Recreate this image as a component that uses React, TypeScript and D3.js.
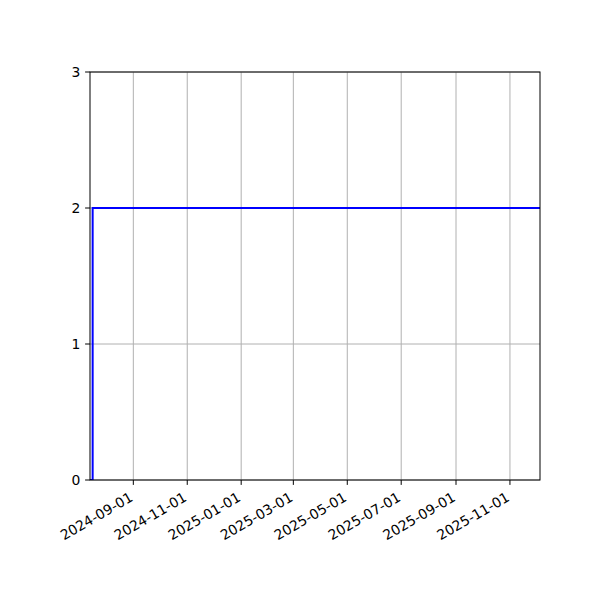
import * as d3 from "d3";

// step series: count over time
const dates = ["2024-07-14", "2024-07-16", "2024-07-17", "2025-12-05"];
const values = [0, 0, 2, 2];
const xTickDates = [
  "2024-09-01",
  "2024-11-01",
  "2025-01-01",
  "2025-03-01",
  "2025-05-01",
  "2025-07-01",
  "2025-09-01",
  "2025-11-01",
];
const yTicks = [0, 1, 2, 3];

const W = 600;
const H = 600;
const M = { top: 72, right: 60, bottom: 120, left: 90 };
const FONT = "DejaVu Sans, sans-serif";

const parse = d3.utcParse("%Y-%m-%d");

export default function App() {
  const points = dates.map((d, i) => ({ date: parse(d) as Date, value: values[i] }));

  const x = d3
    .scaleUtc()
    .domain([points[0].date, points[points.length - 1].date])
    .range([M.left, W - M.right]);
  const y = d3.scaleLinear().domain([0, 3]).range([H - M.bottom, M.top]);

  const line = d3
    .line<{ date: Date; value: number }>()
    .x((d) => x(d.date))
    .y((d) => y(d.value))
    .curve(d3.curveStepAfter);

  const x0 = M.left;
  const x1 = W - M.right;
  const y0 = H - M.bottom;
  const y1 = M.top;

  return (
    <svg
      width={W}
      height={H}
      style={{ position: "absolute", left: 0, top: 0, background: "#fff" }}
      fontFamily={FONT}
    >
      <rect x={0} y={0} width={W} height={H} fill="#fff" />
      {/* grid */}
      {xTickDates.map((t) => {
        const px = x(parse(t) as Date);
        return <line key={"gx" + t} x1={px} x2={px} y1={y0} y2={y1} stroke="#b0b0b0" strokeWidth={1} />;
      })}
      {yTicks.map((t) => (
        <line key={"gy" + t} x1={x0} x2={x1} y1={y(t)} y2={y(t)} stroke="#b0b0b0" strokeWidth={1} />
      ))}

      <defs>
        <clipPath id="plot">
          <rect x={x0} y={y1} width={x1 - x0} height={y0 - y1} />
        </clipPath>
      </defs>
      <path d={line(points) ?? ""} fill="none" stroke="#0000ff" strokeWidth={2} clipPath="url(#plot)" />

      {/* spines */}
      <rect x={x0} y={y1} width={x1 - x0} height={y0 - y1} fill="none" stroke="#000" strokeWidth={1} />

      {/* x ticks */}
      {xTickDates.map((t) => {
        const px = x(parse(t) as Date);
        return (
          <g key={"xt" + t}>
            <line x1={px} x2={px} y1={y0} y2={y0 + 4.9} stroke="#000" strokeWidth={1} />
            <text
              transform={`translate(${px + 0.5},${y0 + 9.7 + 10.5}) rotate(-30)`}
              textAnchor="end"
              fontSize={13.9}
              fill="#000"
            >
              {t}
            </text>
          </g>
        );
      })}

      {/* y ticks */}
      {yTicks.map((t) => (
        <g key={"yt" + t}>
          <line x1={x0 - 4.9} x2={x0} y1={y(t)} y2={y(t)} stroke="#000" strokeWidth={1} />
          <text x={x0 - 9.7} y={y(t)} dy="0.36em" textAnchor="end" fontSize={13.9} fill="#000">
            {t}
          </text>
        </g>
      ))}
    </svg>
  );
}
